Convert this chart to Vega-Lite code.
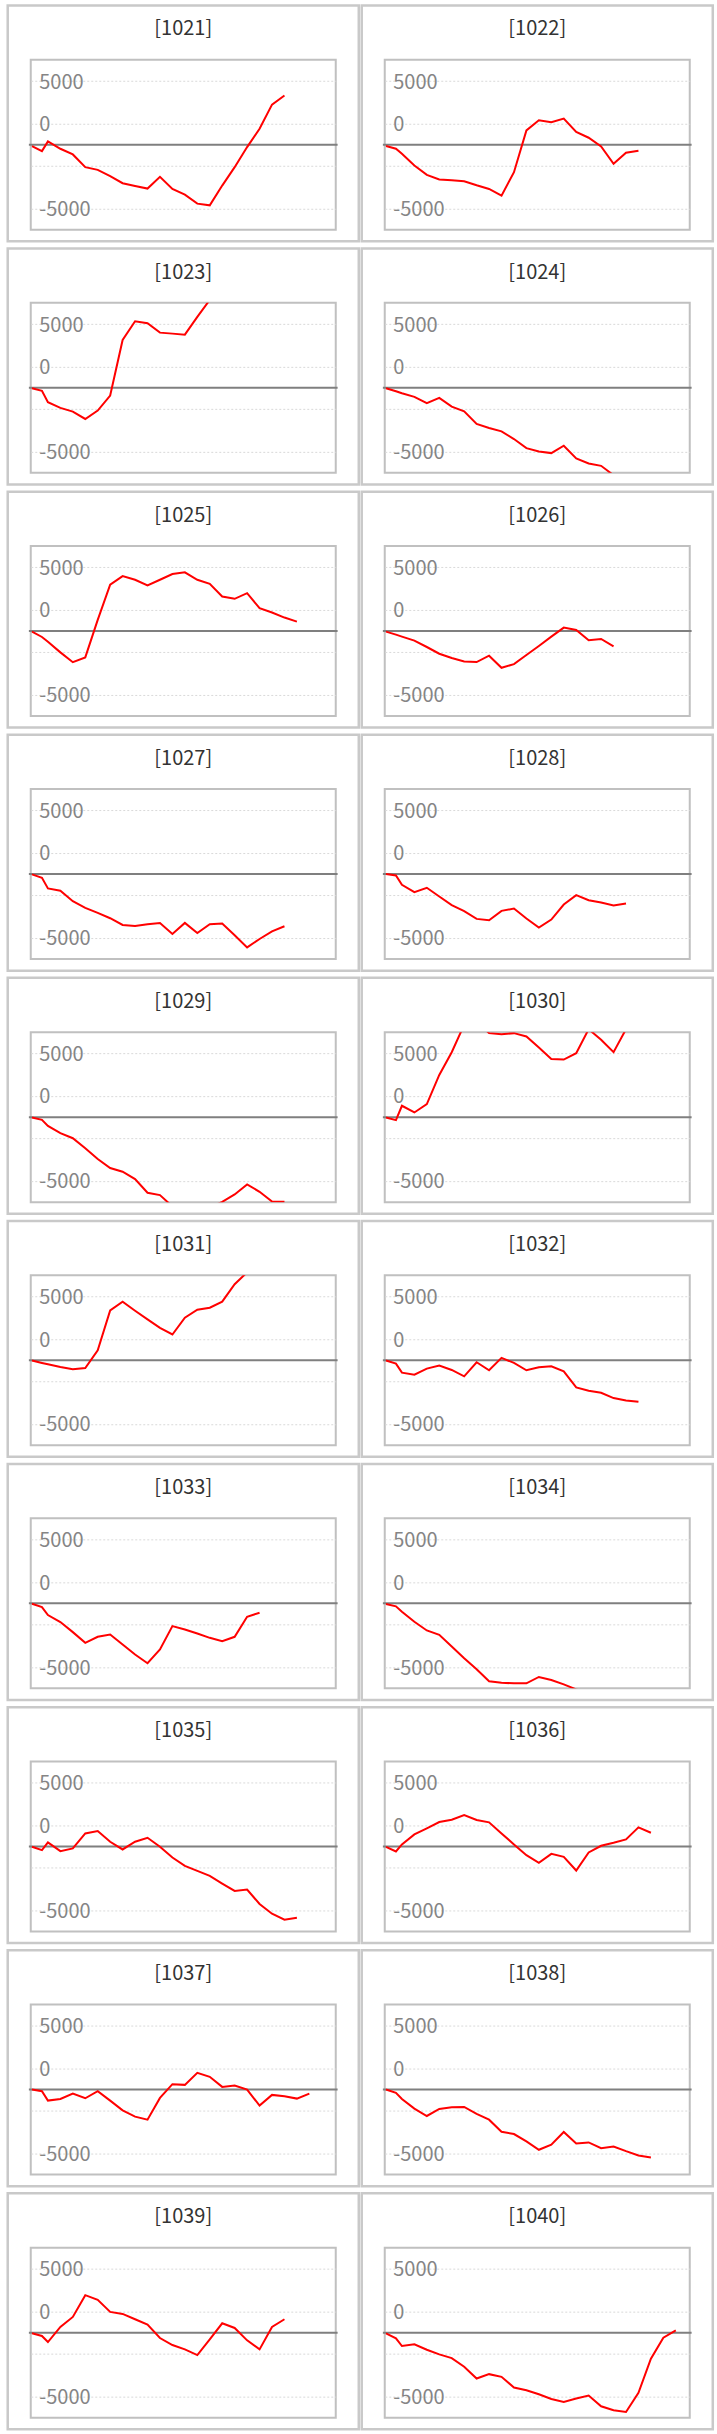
{
"$schema": "https://vega.github.io/schema/vega-lite/v6.json",
"background": "white",
"padding": {"left": 4.75, "top": 1.75, "right": 5, "bottom": 5},
"bounds": "flush",
"data": {"values": [
{"p":"[1021]","t":0,"v":-105},{"p":"[1021]","t":0.8,"v":-499},{"p":"[1021]","t":1.28,"v":263},{"p":"[1021]","t":2.28,"v":-315},{"p":"[1021]","t":3.28,"v":-761},{"p":"[1021]","t":4.28,"v":-1759},{"p":"[1021]","t":5.28,"v":-1969},{"p":"[1021]","t":6.28,"v":-2468},{"p":"[1021]","t":7.28,"v":-3019},{"p":"[1021]","t":8.28,"v":-3229},{"p":"[1021]","t":9.28,"v":-3439},{"p":"[1021]","t":10.28,"v":-2520},{"p":"[1021]","t":11.28,"v":-3465},{"p":"[1021]","t":12.28,"v":-3911},{"p":"[1021]","t":13.28,"v":-4620},{"p":"[1021]","t":14.28,"v":-4751},{"p":"[1021]","t":15.28,"v":-3203},{"p":"[1021]","t":16.28,"v":-1759},{"p":"[1021]","t":17.28,"v":-184},{"p":"[1021]","t":18.28,"v":1260},{"p":"[1021]","t":19.28,"v":3150},{"p":"[1021]","t":20.28,"v":3859},
{"p":"[1022]","t":0,"v":-105},{"p":"[1022]","t":0.8,"v":-315},{"p":"[1022]","t":1.28,"v":-709},{"p":"[1022]","t":2.28,"v":-1628},{"p":"[1022]","t":3.28,"v":-2363},{"p":"[1022]","t":4.28,"v":-2730},{"p":"[1022]","t":5.28,"v":-2783},{"p":"[1022]","t":6.28,"v":-2861},{"p":"[1022]","t":7.28,"v":-3176},{"p":"[1022]","t":8.28,"v":-3465},{"p":"[1022]","t":9.28,"v":-3990},{"p":"[1022]","t":10.28,"v":-2153},{"p":"[1022]","t":11.28,"v":1129},{"p":"[1022]","t":12.28,"v":1916},{"p":"[1022]","t":13.28,"v":1759},{"p":"[1022]","t":14.28,"v":2048},{"p":"[1022]","t":15.28,"v":998},{"p":"[1022]","t":16.28,"v":551},{"p":"[1022]","t":17.28,"v":-131},{"p":"[1022]","t":18.28,"v":-1496},{"p":"[1022]","t":19.28,"v":-630},{"p":"[1022]","t":20.28,"v":-473},
{"p":"[1023]","t":0,"v":-26},{"p":"[1023]","t":0.8,"v":-236},{"p":"[1023]","t":1.28,"v":-1129},{"p":"[1023]","t":2.28,"v":-1575},{"p":"[1023]","t":3.28,"v":-1864},{"p":"[1023]","t":4.28,"v":-2441},{"p":"[1023]","t":5.28,"v":-1785},{"p":"[1023]","t":6.28,"v":-604},{"p":"[1023]","t":7.28,"v":3754},{"p":"[1023]","t":8.28,"v":5224},{"p":"[1023]","t":9.28,"v":5066},{"p":"[1023]","t":10.28,"v":4331},{"p":"[1023]","t":11.28,"v":4253},{"p":"[1023]","t":12.28,"v":4174},{"p":"[1023]","t":13.28,"v":5565},{"p":"[1023]","t":14.28,"v":6900},{"p":"[1023]","t":15.28,"v":7600},
{"p":"[1024]","t":0,"v":-26},{"p":"[1024]","t":0.8,"v":-263},{"p":"[1024]","t":1.28,"v":-420},{"p":"[1024]","t":2.28,"v":-709},{"p":"[1024]","t":3.28,"v":-1208},{"p":"[1024]","t":4.28,"v":-788},{"p":"[1024]","t":5.28,"v":-1470},{"p":"[1024]","t":6.28,"v":-1838},{"p":"[1024]","t":7.28,"v":-2835},{"p":"[1024]","t":8.28,"v":-3150},{"p":"[1024]","t":9.28,"v":-3413},{"p":"[1024]","t":10.28,"v":-4016},{"p":"[1024]","t":11.28,"v":-4725},{"p":"[1024]","t":12.28,"v":-4988},{"p":"[1024]","t":13.28,"v":-5119},{"p":"[1024]","t":14.28,"v":-4541},{"p":"[1024]","t":15.28,"v":-5539},{"p":"[1024]","t":16.28,"v":-5933},{"p":"[1024]","t":17.28,"v":-6116},{"p":"[1024]","t":18.28,"v":-6851},{"p":"[1024]","t":19.28,"v":-7300},
{"p":"[1025]","t":0,"v":-53},{"p":"[1025]","t":0.8,"v":-473},{"p":"[1025]","t":1.28,"v":-840},{"p":"[1025]","t":2.28,"v":-1680},{"p":"[1025]","t":3.28,"v":-2450},{"p":"[1025]","t":4.28,"v":-2074},{"p":"[1025]","t":5.28,"v":866},{"p":"[1025]","t":6.28,"v":3623},{"p":"[1025]","t":7.28,"v":4305},{"p":"[1025]","t":8.28,"v":4016},{"p":"[1025]","t":9.28,"v":3570},{"p":"[1025]","t":10.28,"v":4016},{"p":"[1025]","t":11.28,"v":4463},{"p":"[1025]","t":12.28,"v":4594},{"p":"[1025]","t":13.28,"v":4016},{"p":"[1025]","t":14.28,"v":3701},{"p":"[1025]","t":15.28,"v":2704},{"p":"[1025]","t":16.28,"v":2520},{"p":"[1025]","t":17.28,"v":2966},{"p":"[1025]","t":18.28,"v":1785},{"p":"[1025]","t":19.28,"v":1444},{"p":"[1025]","t":20.28,"v":1050},{"p":"[1025]","t":21.28,"v":735},
{"p":"[1026]","t":0,"v":-53},{"p":"[1026]","t":0.8,"v":-289},{"p":"[1026]","t":1.28,"v":-446},{"p":"[1026]","t":2.28,"v":-761},{"p":"[1026]","t":3.28,"v":-1260},{"p":"[1026]","t":4.28,"v":-1785},{"p":"[1026]","t":5.28,"v":-2126},{"p":"[1026]","t":6.28,"v":-2389},{"p":"[1026]","t":7.28,"v":-2441},{"p":"[1026]","t":8.28,"v":-1943},{"p":"[1026]","t":9.28,"v":-2888},{"p":"[1026]","t":10.28,"v":-2599},{"p":"[1026]","t":11.28,"v":-1890},{"p":"[1026]","t":12.28,"v":-1181},{"p":"[1026]","t":13.28,"v":-446},{"p":"[1026]","t":14.28,"v":263},{"p":"[1026]","t":15.28,"v":79},{"p":"[1026]","t":16.28,"v":-735},{"p":"[1026]","t":17.28,"v":-630},{"p":"[1026]","t":18.28,"v":-1208},
{"p":"[1027]","t":0,"v":-26},{"p":"[1027]","t":0.8,"v":-289},{"p":"[1027]","t":1.28,"v":-1129},{"p":"[1027]","t":2.28,"v":-1313},{"p":"[1027]","t":3.28,"v":-2126},{"p":"[1027]","t":4.28,"v":-2651},{"p":"[1027]","t":5.28,"v":-3045},{"p":"[1027]","t":6.28,"v":-3465},{"p":"[1027]","t":7.28,"v":-3990},{"p":"[1027]","t":8.28,"v":-4069},{"p":"[1027]","t":9.28,"v":-3938},{"p":"[1027]","t":10.28,"v":-3833},{"p":"[1027]","t":11.28,"v":-4699},{"p":"[1027]","t":12.28,"v":-3833},{"p":"[1027]","t":13.28,"v":-4620},{"p":"[1027]","t":14.28,"v":-3938},{"p":"[1027]","t":15.28,"v":-3885},{"p":"[1027]","t":16.28,"v":-4804},{"p":"[1027]","t":17.28,"v":-5749},{"p":"[1027]","t":18.28,"v":-5093},{"p":"[1027]","t":19.28,"v":-4489},{"p":"[1027]","t":20.28,"v":-4095},
{"p":"[1028]","t":0,"v":0},{"p":"[1028]","t":0.8,"v":-105},{"p":"[1028]","t":1.28,"v":-840},{"p":"[1028]","t":2.28,"v":-1418},{"p":"[1028]","t":3.28,"v":-1076},{"p":"[1028]","t":4.28,"v":-1759},{"p":"[1028]","t":5.28,"v":-2441},{"p":"[1028]","t":6.28,"v":-2914},{"p":"[1028]","t":7.28,"v":-3518},{"p":"[1028]","t":8.28,"v":-3623},{"p":"[1028]","t":9.28,"v":-2888},{"p":"[1028]","t":10.28,"v":-2704},{"p":"[1028]","t":11.28,"v":-3491},{"p":"[1028]","t":12.28,"v":-4200},{"p":"[1028]","t":13.28,"v":-3570},{"p":"[1028]","t":14.28,"v":-2389},{"p":"[1028]","t":15.28,"v":-1654},{"p":"[1028]","t":16.28,"v":-2048},{"p":"[1028]","t":17.28,"v":-2231},{"p":"[1028]","t":18.28,"v":-2468},{"p":"[1028]","t":19.28,"v":-2310},
{"p":"[1029]","t":0,"v":-26},{"p":"[1029]","t":0.8,"v":-210},{"p":"[1029]","t":1.28,"v":-683},{"p":"[1029]","t":2.28,"v":-1260},{"p":"[1029]","t":3.28,"v":-1654},{"p":"[1029]","t":4.28,"v":-2441},{"p":"[1029]","t":5.28,"v":-3281},{"p":"[1029]","t":6.28,"v":-3990},{"p":"[1029]","t":7.28,"v":-4279},{"p":"[1029]","t":8.28,"v":-4856},{"p":"[1029]","t":9.28,"v":-5933},{"p":"[1029]","t":10.28,"v":-6116},{"p":"[1029]","t":11.28,"v":-7000},{"p":"[1029]","t":12.28,"v":-7400},{"p":"[1029]","t":13.28,"v":-7400},{"p":"[1029]","t":14.28,"v":-7100},{"p":"[1029]","t":15.28,"v":-6650},{"p":"[1029]","t":16.28,"v":-6064},{"p":"[1029]","t":17.28,"v":-5276},{"p":"[1029]","t":18.28,"v":-5854},{"p":"[1029]","t":19.28,"v":-6620},{"p":"[1029]","t":20.28,"v":-6640},
{"p":"[1030]","t":0,"v":-26},{"p":"[1030]","t":0.8,"v":-236},{"p":"[1030]","t":1.28,"v":893},{"p":"[1030]","t":2.28,"v":368},{"p":"[1030]","t":3.28,"v":1024},{"p":"[1030]","t":4.28,"v":3308},{"p":"[1030]","t":5.28,"v":5093},{"p":"[1030]","t":6.28,"v":7250},{"p":"[1030]","t":7.28,"v":7500},{"p":"[1030]","t":8.28,"v":6589},{"p":"[1030]","t":9.28,"v":6510},{"p":"[1030]","t":10.28,"v":6589},{"p":"[1030]","t":11.28,"v":6326},{"p":"[1030]","t":12.28,"v":5460},{"p":"[1030]","t":13.28,"v":4568},{"p":"[1030]","t":14.28,"v":4515},{"p":"[1030]","t":15.28,"v":5014},{"p":"[1030]","t":16.28,"v":6900},{"p":"[1030]","t":17.28,"v":6064},{"p":"[1030]","t":18.28,"v":5093},{"p":"[1030]","t":19.28,"v":6900},
{"p":"[1031]","t":0,"v":-26},{"p":"[1031]","t":0.8,"v":-210},{"p":"[1031]","t":1.28,"v":-315},{"p":"[1031]","t":2.28,"v":-525},{"p":"[1031]","t":3.28,"v":-709},{"p":"[1031]","t":4.28,"v":-604},{"p":"[1031]","t":5.28,"v":788},{"p":"[1031]","t":6.28,"v":3911},{"p":"[1031]","t":7.28,"v":4594},{"p":"[1031]","t":8.28,"v":3885},{"p":"[1031]","t":9.28,"v":3203},{"p":"[1031]","t":10.28,"v":2546},{"p":"[1031]","t":11.28,"v":2021},{"p":"[1031]","t":12.28,"v":3334},{"p":"[1031]","t":13.28,"v":3964},{"p":"[1031]","t":14.28,"v":4121},{"p":"[1031]","t":15.28,"v":4594},{"p":"[1031]","t":16.28,"v":5959},{"p":"[1031]","t":17.28,"v":6900},{"p":"[1031]","t":18.28,"v":7500},
{"p":"[1032]","t":0,"v":-26},{"p":"[1032]","t":0.8,"v":-263},{"p":"[1032]","t":1.28,"v":-971},{"p":"[1032]","t":2.28,"v":-1129},{"p":"[1032]","t":3.28,"v":-656},{"p":"[1032]","t":4.28,"v":-420},{"p":"[1032]","t":5.28,"v":-761},{"p":"[1032]","t":6.28,"v":-1260},{"p":"[1032]","t":7.28,"v":-158},{"p":"[1032]","t":8.28,"v":-788},{"p":"[1032]","t":9.28,"v":184},{"p":"[1032]","t":10.28,"v":-210},{"p":"[1032]","t":11.28,"v":-788},{"p":"[1032]","t":12.28,"v":-551},{"p":"[1032]","t":13.28,"v":-473},{"p":"[1032]","t":14.28,"v":-866},{"p":"[1032]","t":15.28,"v":-2126},{"p":"[1032]","t":16.28,"v":-2389},{"p":"[1032]","t":17.28,"v":-2546},{"p":"[1032]","t":18.28,"v":-2966},{"p":"[1032]","t":19.28,"v":-3150},{"p":"[1032]","t":20.28,"v":-3255},
{"p":"[1033]","t":0,"v":-26},{"p":"[1033]","t":0.8,"v":-289},{"p":"[1033]","t":1.28,"v":-919},{"p":"[1033]","t":2.28,"v":-1470},{"p":"[1033]","t":3.28,"v":-2258},{"p":"[1033]","t":4.28,"v":-3098},{"p":"[1033]","t":5.28,"v":-2625},{"p":"[1033]","t":6.28,"v":-2441},{"p":"[1033]","t":7.28,"v":-3229},{"p":"[1033]","t":8.28,"v":-4016},{"p":"[1033]","t":9.28,"v":-4700},{"p":"[1033]","t":10.28,"v":-3623},{"p":"[1033]","t":11.28,"v":-1785},{"p":"[1033]","t":12.28,"v":-2048},{"p":"[1033]","t":13.28,"v":-2363},{"p":"[1033]","t":14.28,"v":-2704},{"p":"[1033]","t":15.28,"v":-2966},{"p":"[1033]","t":16.28,"v":-2625},{"p":"[1033]","t":17.28,"v":-1050},{"p":"[1033]","t":18.28,"v":-735},
{"p":"[1034]","t":0,"v":-53},{"p":"[1034]","t":0.8,"v":-236},{"p":"[1034]","t":1.28,"v":-656},{"p":"[1034]","t":2.28,"v":-1444},{"p":"[1034]","t":3.28,"v":-2126},{"p":"[1034]","t":4.28,"v":-2468},{"p":"[1034]","t":5.28,"v":-3386},{"p":"[1034]","t":6.28,"v":-4305},{"p":"[1034]","t":7.28,"v":-5171},{"p":"[1034]","t":8.28,"v":-6116},{"p":"[1034]","t":9.28,"v":-6221},{"p":"[1034]","t":10.28,"v":-6274},{"p":"[1034]","t":11.28,"v":-6274},{"p":"[1034]","t":12.28,"v":-5775},{"p":"[1034]","t":13.28,"v":-6011},{"p":"[1034]","t":14.28,"v":-6353},{"p":"[1034]","t":15.28,"v":-6750},{"p":"[1034]","t":16.28,"v":-7100},
{"p":"[1035]","t":0,"v":-26},{"p":"[1035]","t":0.8,"v":-289},{"p":"[1035]","t":1.28,"v":315},{"p":"[1035]","t":2.28,"v":-368},{"p":"[1035]","t":3.28,"v":-158},{"p":"[1035]","t":4.28,"v":1024},{"p":"[1035]","t":5.28,"v":1208},{"p":"[1035]","t":6.28,"v":368},{"p":"[1035]","t":7.28,"v":-236},{"p":"[1035]","t":8.28,"v":368},{"p":"[1035]","t":9.28,"v":683},{"p":"[1035]","t":10.28,"v":-26},{"p":"[1035]","t":11.28,"v":-866},{"p":"[1035]","t":12.28,"v":-1523},{"p":"[1035]","t":13.28,"v":-1916},{"p":"[1035]","t":14.28,"v":-2310},{"p":"[1035]","t":15.28,"v":-2914},{"p":"[1035]","t":16.28,"v":-3491},{"p":"[1035]","t":17.28,"v":-3386},{"p":"[1035]","t":18.28,"v":-4515},{"p":"[1035]","t":19.28,"v":-5276},{"p":"[1035]","t":20.28,"v":-5749},{"p":"[1035]","t":21.28,"v":-5591},
{"p":"[1036]","t":0,"v":-26},{"p":"[1036]","t":0.8,"v":-394},{"p":"[1036]","t":1.28,"v":158},{"p":"[1036]","t":2.28,"v":945},{"p":"[1036]","t":3.28,"v":1418},{"p":"[1036]","t":4.28,"v":1916},{"p":"[1036]","t":5.28,"v":2100},{"p":"[1036]","t":6.28,"v":2468},{"p":"[1036]","t":7.28,"v":2074},{"p":"[1036]","t":8.28,"v":1890},{"p":"[1036]","t":9.28,"v":1024},{"p":"[1036]","t":10.28,"v":158},{"p":"[1036]","t":11.28,"v":-683},{"p":"[1036]","t":12.28,"v":-1290},{"p":"[1036]","t":13.28,"v":-578},{"p":"[1036]","t":14.28,"v":-814},{"p":"[1036]","t":15.28,"v":-1890},{"p":"[1036]","t":16.28,"v":-473},{"p":"[1036]","t":17.28,"v":53},{"p":"[1036]","t":18.28,"v":289},{"p":"[1036]","t":19.28,"v":551},{"p":"[1036]","t":20.28,"v":1496},{"p":"[1036]","t":21.28,"v":1076},
{"p":"[1037]","t":0,"v":0},{"p":"[1037]","t":0.8,"v":-131},{"p":"[1037]","t":1.28,"v":-866},{"p":"[1037]","t":2.28,"v":-735},{"p":"[1037]","t":3.28,"v":-315},{"p":"[1037]","t":4.28,"v":-683},{"p":"[1037]","t":5.28,"v":-131},{"p":"[1037]","t":6.28,"v":-866},{"p":"[1037]","t":7.28,"v":-1628},{"p":"[1037]","t":8.28,"v":-2126},{"p":"[1037]","t":9.28,"v":-2363},{"p":"[1037]","t":10.28,"v":-656},{"p":"[1037]","t":11.28,"v":420},{"p":"[1037]","t":12.28,"v":368},{"p":"[1037]","t":13.28,"v":1313},{"p":"[1037]","t":14.28,"v":998},{"p":"[1037]","t":15.28,"v":210},{"p":"[1037]","t":16.28,"v":315},{"p":"[1037]","t":17.28,"v":0},{"p":"[1037]","t":18.28,"v":-1260},{"p":"[1037]","t":19.28,"v":-420},{"p":"[1037]","t":20.28,"v":-525},{"p":"[1037]","t":21.28,"v":-709},{"p":"[1037]","t":22.28,"v":-315},
{"p":"[1038]","t":0,"v":0},{"p":"[1038]","t":0.8,"v":-263},{"p":"[1038]","t":1.28,"v":-735},{"p":"[1038]","t":2.28,"v":-1496},{"p":"[1038]","t":3.28,"v":-2074},{"p":"[1038]","t":4.28,"v":-1523},{"p":"[1038]","t":5.28,"v":-1391},{"p":"[1038]","t":6.28,"v":-1365},{"p":"[1038]","t":7.28,"v":-1916},{"p":"[1038]","t":8.28,"v":-2363},{"p":"[1038]","t":9.28,"v":-3308},{"p":"[1038]","t":10.28,"v":-3491},{"p":"[1038]","t":11.28,"v":-4069},{"p":"[1038]","t":12.28,"v":-4725},{"p":"[1038]","t":13.28,"v":-4331},{"p":"[1038]","t":14.28,"v":-3330},{"p":"[1038]","t":15.28,"v":-4226},{"p":"[1038]","t":16.28,"v":-4148},{"p":"[1038]","t":17.28,"v":-4594},{"p":"[1038]","t":18.28,"v":-4463},{"p":"[1038]","t":19.28,"v":-4830},{"p":"[1038]","t":20.28,"v":-5171},{"p":"[1038]","t":21.28,"v":-5329},
{"p":"[1039]","t":0,"v":-53},{"p":"[1039]","t":0.8,"v":-263},{"p":"[1039]","t":1.28,"v":-735},{"p":"[1039]","t":2.28,"v":446},{"p":"[1039]","t":3.28,"v":1234},{"p":"[1039]","t":4.28,"v":2940},{"p":"[1039]","t":5.28,"v":2573},{"p":"[1039]","t":6.28,"v":1628},{"p":"[1039]","t":7.28,"v":1470},{"p":"[1039]","t":8.28,"v":1050},{"p":"[1039]","t":9.28,"v":630},{"p":"[1039]","t":10.28,"v":-420},{"p":"[1039]","t":11.28,"v":-971},{"p":"[1039]","t":12.28,"v":-1313},{"p":"[1039]","t":13.28,"v":-1759},{"p":"[1039]","t":14.28,"v":-525},{"p":"[1039]","t":15.28,"v":735},{"p":"[1039]","t":16.28,"v":368},{"p":"[1039]","t":17.28,"v":-604},{"p":"[1039]","t":18.28,"v":-1313},{"p":"[1039]","t":19.28,"v":446},{"p":"[1039]","t":20.28,"v":1050},
{"p":"[1040]","t":0,"v":-53},{"p":"[1040]","t":0.8,"v":-446},{"p":"[1040]","t":1.28,"v":-1050},{"p":"[1040]","t":2.28,"v":-919},{"p":"[1040]","t":3.28,"v":-1339},{"p":"[1040]","t":4.28,"v":-1706},{"p":"[1040]","t":5.28,"v":-1995},{"p":"[1040]","t":6.28,"v":-2678},{"p":"[1040]","t":7.28,"v":-3596},{"p":"[1040]","t":8.28,"v":-3255},{"p":"[1040]","t":9.28,"v":-3465},{"p":"[1040]","t":10.28,"v":-4305},{"p":"[1040]","t":11.28,"v":-4515},{"p":"[1040]","t":12.28,"v":-4830},{"p":"[1040]","t":13.28,"v":-5198},{"p":"[1040]","t":14.28,"v":-5434},{"p":"[1040]","t":15.28,"v":-5171},{"p":"[1040]","t":16.28,"v":-4935},{"p":"[1040]","t":17.28,"v":-5775},{"p":"[1040]","t":18.28,"v":-6090},{"p":"[1040]","t":19.28,"v":-6221},{"p":"[1040]","t":20.28,"v":-4725},{"p":"[1040]","t":21.28,"v":-2048},{"p":"[1040]","t":22.28,"v":-394},{"p":"[1040]","t":23.28,"v":184}
]},
"facet": {"field": "p", "type": "nominal", "header": {"title": null, "labelExpr": "''", "labelFontSize": 1, "labelPadding": 0}},
"columns": 2,
"spacing": {"row": 73.1, "column": 49},
"resolve": {"axis": {"y": "independent"}},
"spec": {
  "width": 305,
  "height": 170,
  "layer": [
    {
      "transform": [{"filter": "datum.t === 0"}],
      "mark": {"type": "rule", "color": "#7f7f7f", "strokeWidth": 2},
      "encoding": {
        "x": {"datum": -0.25, "type": "quantitative", "scale": {"domain": [-0.1, 24.4], "nice": false, "zero": false}, "axis": null},
        "x2": {"datum": 24.55},
        "y": {"datum": 0, "type": "quantitative", "scale": {"domain": [-6667, 6667], "nice": false, "zero": false}, "title": null}
      }
    },
    {
      "mark": {"type": "line", "color": "#ff0000", "strokeWidth": 2, "clip": true},
      "encoding": {
        "x": {"field": "t", "type": "quantitative", "axis": null},
        "y": {"field": "v", "type": "quantitative", "axis": {
          "values": [-5000, -3333.33, -1666.67, 0, 1666.67, 3333.33, 5000],
          "labelExpr": "datum.value == 5000 ? '5000' : datum.value == -5000 ? '-5000' : (datum.value > 1000 && datum.value < 2000 ? '0' : '')",
          "grid": true, "gridColor": "#d9d9d9", "gridDash": [2, 2], "gridWidth": 1,
          "domain": false, "ticks": false, "tickSize": 0,
          "labelPadding": -8, "labelAlign": "left", "labelBaseline": "middle", "labelOffset": 1,
          "labelFont": "Noto Sans CJK JP", "labelFontSize": 20, "labelColor": "#858585",
          "labelOverlap": false, "labelBound": false, "labelFlush": false, "title": null
        }}
      }
    },
    {
      "transform": [{"filter": "datum.t === 0"}],
      "mark": {"type": "rect", "filled": false, "stroke": "#c9c9c9", "strokeWidth": 2.5},
      "encoding": {
        "x": {"datum": -1.95, "type": "quantitative"},
        "x2": {"datum": 26.25},
        "y": {"datum": 10926, "type": "quantitative", "title": null},
        "y2": {"datum": -7577}
      }
    },
    {
      "transform": [{"filter": "datum.t === 0"}],
      "mark": {"type": "text", "font": "Noto Sans CJK JP", "fontSize": 20, "color": "#333333", "align": "center", "baseline": "alphabetic"},
      "encoding": {
        "x": {"datum": 12.15, "type": "quantitative"},
        "y": {"datum": 8570, "type": "quantitative", "title": null},
        "text": {"field": "p"}
      }
    }
  ]
},
"config": {
  "view": {"stroke": "#c0c0c0", "strokeWidth": 2},
  "axisX": {"disable": true}
}
}
